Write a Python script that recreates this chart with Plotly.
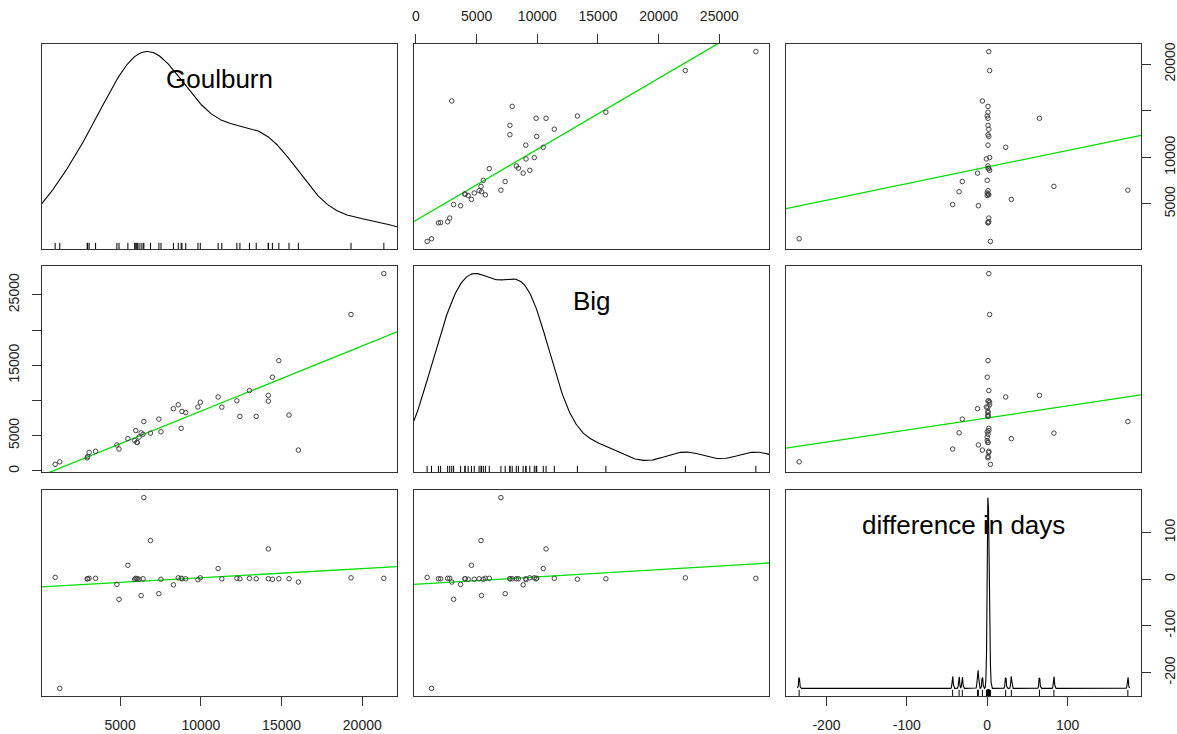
import numpy as np
import plotly.graph_objects as go

# ---------------- data ----------------
goulburn = [975, 1260, 2960, 2990, 3080, 3480, 4800, 4930, 5480, 5900,
            5970, 6040, 6060, 6170, 6300, 6420, 6470, 6880, 7400, 7530,
            8300, 8600, 8780, 8830, 9065, 9820, 9965, 11070, 11300, 12230,
            12420, 13010, 13430, 14180, 14180, 14430, 14830, 15460, 16040, 19300,
            21335]
big = [920, 1280, 1850, 2030, 2610, 2780, 3680, 3100, 4570, 4300,
       5720, 4050, 4030, 4800, 5400, 5200, 7000, 5360, 7350, 5550,
       8830, 9380, 6040, 8440, 8270, 9070, 9750, 10490, 9050, 9950,
       7740, 11400, 7740, 10720, 9900, 13300, 15650, 7930, 2950, 22200,
       28010]
diff_days = [4, -234, 1, 1, 2, 2, -11, -43, 30, 0,
             2, 1, 1, 0, -35, 1, 175, 83, -31, 0,
             -12, 3, 2, 1, 1, -1, 3, 23, 1, 2,
             1, 2, 1, 65, 1, 0, 1, 1, -6, 3,
             2]
var_names = ["Goulburn", "Big", "difference in days"]

big_ticks = [0, 5000, 10000, 15000, 20000, 25000]
big_top_labels = ["0", "5000", "10000", "15000", "20000", "25000"]
big_left_labels = ["0", "5000", "", "15000", "", "25000"]
goul_right_ticks = [5000, 10000, 15000, 20000]
goul_right_labels = ["5000", "10000", "", "20000"]
goul_bottom_ticks = [5000, 10000, 15000, 20000]
goul_bottom_labels = ["5000", "10000", "15000", "20000"]
diff_ticks = [-200, -100, 0, 100]
diff_labels = ["-200", "-100", "0", "100"]

# ---------------- helpers ----------------
data = [np.array(goulburn, float), np.array(big, float), np.array(diff_days, float)]

W, H = 1177, 734
col_px = [(42, 397), (414, 769), (786, 1141)]
row_px = [(44, 249), (266, 472), (490, 696)]


def padded(v):
    lo, hi = v.min(), v.max()
    s = hi - lo
    return [lo - 0.04 * s, hi + 0.04 * s]


ranges = [padded(v) for v in data]


def bw_nrd0(x):
    hi = np.std(x, ddof=1)
    q75, q25 = np.percentile(x, [75, 25])
    lo = min(hi, (q75 - q25) / 1.34)
    if lo == 0:
        lo = hi
    return 0.9 * lo * len(x) ** -0.2


def kde(x):
    bw = bw_nrd0(x)
    grid = np.linspace(x.min() - 3 * bw, x.max() + 3 * bw, 512)
    d = np.exp(-0.5 * ((grid[:, None] - x[None, :]) / bw) ** 2).sum(1) / (len(x) * bw * np.sqrt(2 * np.pi))
    return grid, d


GREEN = "#00DD00"
FONT = "Liberation Sans, Arial, sans-serif"
LINE = "#333333"

fig = go.Figure()
layout = {}
annotations = []

tick_spec = {
    (0, 1, "x"): ("top", big_ticks, big_top_labels),
    (0, 2, "y"): ("right", goul_right_ticks, goul_right_labels),
    (1, 0, "y"): ("left", big_ticks, big_left_labels),
    (2, 0, "x"): ("bottom", goul_bottom_ticks, goul_bottom_labels),
    (2, 2, "x"): ("bottom", diff_ticks, diff_labels),
    (2, 2, "y"): ("right", diff_ticks, diff_labels),
}

for r in range(3):
    for c in range(3):
        n = r * 3 + c + 1
        xs = "" if n == 1 else str(n)
        xref, yref = "x" + xs, "y" + xs
        xv, yv = data[c], data[r]
        xr, yr = ranges[c], ranges[r]

        if r == c:
            g, d = kde(xv)
            yd = xv.min() + d * (xv.max() - xv.min()) / (d.max() - d.min())
            fig.add_trace(go.Scatter(x=g, y=yd, mode="lines", xaxis=xref, yaxis=yref,
                                     line=dict(color="black", width=1.1), hoverinfo="skip"))
            rl = yr[0] + 0.03 * (yr[1] - yr[0])
            rx, ry = [], []
            for v in xv:
                rx += [v, v, None]
                ry += [yr[0], rl, None]
            fig.add_trace(go.Scatter(x=rx, y=ry, mode="lines", xaxis=xref, yaxis=yref,
                                     line=dict(color="black", width=1), hoverinfo="skip"))
            annotations.append(dict(text=var_names[r], x=0.5, y=0.83, xref=xref + " domain",
                                    yref=yref + " domain", xanchor="center", yanchor="middle",
                                    showarrow=False, font=dict(family=FONT, size=26, color="black")))
        else:
            b, a = np.polyfit(xv, yv, 1)
            lx = np.array(xr)
            fig.add_trace(go.Scatter(x=lx, y=a + b * lx, mode="lines", xaxis=xref, yaxis=yref,
                                     line=dict(color=GREEN, width=1.3), hoverinfo="skip"))
            fig.add_trace(go.Scatter(x=xv, y=yv, mode="markers", xaxis=xref, yaxis=yref,
                                     marker=dict(symbol="circle-open", size=4.5, color="#444444",
                                                 line=dict(width=1, color="#444444"))))

        x0, x1 = col_px[c]
        y0, y1 = row_px[r]
        common = dict(showgrid=False, zeroline=False, showline=True, mirror=True,
                      linecolor=LINE, linewidth=1.2, showticklabels=False, ticks="",
                      automargin=False, fixedrange=True)
        xa = dict(domain=[x0 / W, x1 / W], range=xr, anchor=yref, **common)
        ya = dict(domain=[1 - y1 / H, 1 - y0 / H], range=yr, anchor=xref, **common)
        for ax, key in ((xa, "x"), (ya, "y")):
            spec = tick_spec.get((r, c, key))
            if spec:
                side, vals, txt = spec
                ax.update(side=side, tickvals=vals, ticktext=txt, ticks="outside", ticklen=9,
                          tickwidth=1, tickcolor=LINE, showticklabels=True, ticklabelstandoff=7,
                          tickfont=dict(family=FONT, size=14, color="#222222"))
                if key == "y":
                    ax.update(tickangle=-90)
        layout["xaxis" + xs] = xa
        layout["yaxis" + xs] = ya

fig.update_layout(**layout)
fig.update_layout(width=W, height=H, margin=dict(l=0, r=0, t=0, b=0), autosize=False,
                  showlegend=False, paper_bgcolor="white", plot_bgcolor="white",
                  annotations=annotations)
fig.write_html("out.html", config={"displayModeBar": False},
               post_script="document.body.style.margin='0';document.body.style.overflow='hidden';")
